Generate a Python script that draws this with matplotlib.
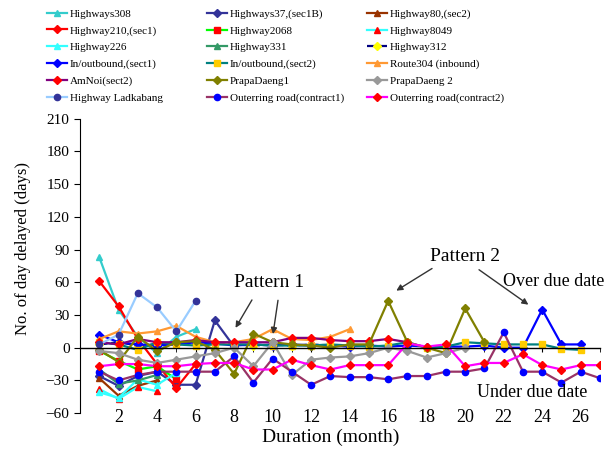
import numpy as np
import matplotlib.pyplot as plt

plt.rcParams['font.family'] = ['Liberation Serif', 'DejaVu Serif']

# delay (days) per month, each series starts at month 1
highways308 = [83, 35, 10, -5, 10, 17]
highways37 = [-26, -35, -26, -22, -34, -34, 25, 1]
highway80 = [-28, -44, -35, -30]
highway210 = [61, 38, 8, -15, -37, -15]
highway2068 = [-3, -12, -20, -17, -29]
highway8049 = [-38, -47, -36, -40]
highway226 = [-41, -46, -29, -34, -23]
highway331 = [-20, -33, -30, -25]
highway312 = [3, 5, 2, 3, 5, 3, 4, 3, 2, 3, 2, 3, 2, 2]
inbound1 = [12, 5, 3, 2, 3, 5, 4, 2, 3, 2, 3, 2, 2, 1, 2, 1, 2, 1, 1, 1, 2, 0, 0, 35, 3, 3]
inbound2 = [5, 3, -2, 5, 3, 2, 3, 3, 3, 2, 2, 2, 3, 2, 1, 2, 5, 0, 1, 5, 4, 3, 3, 3, -1, -2]
route304 = [8, 15, 13, 15, 20, 10, 5, 5, 8, 17, 8, 7, 10, 17]
amnoi = [5, 3, 8, 5, 5, 7, 5, 5, 5, 5, 9, 9, 7, 6, 6, 8, 5]
prapa1 = [-2, -13, 10, -3, 5, 6, -2, -24, 13, 5, 3, 2, 0, 3, 3, 43, 5, 0, -5, 36, 5]
prapa2 = [-3, -5, -11, -14, -11, -8, -5, 0, -17, 5, -25, -11, -9, -8, -5, 0, -3, -9, -5, 0]
ladkabang = [3, 12, 50, 37, 15, 43]
outer1 = [-22, -30, -25, -22, -22, -22, -22, -8, -32, -10, -22, -34, -26, -27,
          -27, -29, -26, -26, -22, -22, -19, 14, -22, -22, -32, -22, -28]
outer2 = [-17, -15, -15, -17, -17, -15, -14, -14, -20, -20, -11, -16, -20, -16,
          -16, -16, 4, 1, 3, -17, -14, -14, -6, -16, -20, -16, -16]

# name, values, line colour, marker, marker colour, linestyle
series = [
    ('Highways308', highways308, '#33CCCC', '^', '#33CCCC', '-'),
    ('Highways37,(sec1B)', highways37, '#333399', 'D', '#333399', '-'),
    ('Highway80,(sec2)', highway80, '#993300', '^', '#993300', '-'),
    ('Highway210,(sec1)', highway210, '#FF0000', 'D', '#FF0000', '-'),
    ('Highway2068', highway2068, '#00FF00', 's', '#FF0000', '-'),
    ('Highway8049', highway8049, '#33FFFF', '^', '#FF0000', '-'),
    ('Highway226', highway226, '#33FFFF', '^', '#33FFFF', '-'),
    ('Highway331', highway331, '#339966', '^', '#339966', '-'),
    ('Highway312', highway312, '#000080', 'D', '#FFFF00', '--'),
    ('In/outbound,(sect1)', inbound1, '#0000FF', 'D', '#0000FF', '-'),
    ('In/outbound,(sect2)', inbound2, '#008080', 's', '#FFCC00', '-'),
    ('Route304 (inbound)', route304, '#FF9933', '^', '#FF9933', '-'),
    ('AmNoi(sect2)', amnoi, '#800080', 'D', '#FF0000', '-'),
    ('PrapaDaeng1', prapa1, '#808000', 'D', '#808000', '-'),
    ('PrapaDaeng 2', prapa2, '#999999', 'D', '#999999', '-'),
    ('Highway Ladkabang', ladkabang, '#99CCFF', 'o', '#333399', '-'),
    ('Outerring road(contract1)', outer1, '#993366', 'o', '#0000FF', '-'),
    ('Outerring road(contract2)', outer2, '#FF00FF', 'D', '#FF0000', '-'),
]

fig = plt.figure(figsize=(6.11, 4.5), dpi=100)
ax = fig.add_axes([0.131, 0.082, 0.851, 0.654])

handles = []
for name, vals, lc, mk, mc, ls in series:
    months = np.arange(1, len(vals) + 1)
    h, = ax.plot(months, vals, color=lc, linestyle=ls, linewidth=1.6,
                 marker=mk, markersize=4.5, markerfacecolor=mc,
                 markeredgecolor=mc, label=name)
    handles.append(h)

ax.set_xlim(0, 27)
ax.set_ylim(-60, 210)
ax.set_yticks(np.arange(-60, 211, 30))
ax.set_xticks(np.arange(2, 27, 2))
ax.set_xticks(np.arange(1, 28), minor=True)

ax.spines['top'].set_visible(False)
ax.spines['right'].set_visible(False)
ax.spines['bottom'].set_position(('data', 0))
ax.spines['bottom'].set_linewidth(1.0)
ax.tick_params(axis='x', which='both', direction='out', length=3, pad=41, labelsize=13)
ax.tick_params(axis='y', direction='out', length=4, labelsize=11)

ax.set_xlabel('Duration (month)', fontsize=14, va='center')
ax.xaxis.set_label_coords(0.483, -0.082)
ax.set_ylabel('No. of day delayed (days)', fontsize=12, va='center')
ax.yaxis.set_label_coords(-0.11, 0.56)

arrow = dict(arrowstyle='-|>', color='#333333', lw=1.0, mutation_scale=9)
ax.text(9.8, 60, 'Pattern 1', fontsize=14, ha='center', va='center')
ax.annotate('', xy=(8.0, 16), xytext=(9.0, 46), arrowprops=arrow)
ax.annotate('', xy=(10.0, 10), xytext=(10.3, 46), arrowprops=arrow)
ax.text(20.0, 84, 'Pattern 2', fontsize=14, ha='center', va='center')
ax.annotate('', xy=(16.3, 51), xytext=(18.4, 74), arrowprops=arrow)
ax.annotate('', xy=(23.4, 38), xytext=(20.6, 73), arrowprops=arrow)
ax.text(24.6, 61, 'Over due date', fontsize=13, ha='center', va='center')
ax.text(23.5, -41, 'Under due date', fontsize=13, ha='center', va='center')

# legend is read row by row in the original: one legend per column
col_x = [45, 205, 365]
for j in range(3):
    idx = [i * 3 + j for i in range(6)]
    fig.legend([handles[k] for k in idx], [series[k][0] for k in idx],
               ncol=1, loc='upper left', bbox_to_anchor=(col_x[j] / 611 - 0.012, 1.0),
               frameon=False, fontsize=8, handlelength=1.8, handletextpad=0.3,
               labelspacing=0.62, borderpad=0.3)

fig.savefig('out.png', dpi=100)
